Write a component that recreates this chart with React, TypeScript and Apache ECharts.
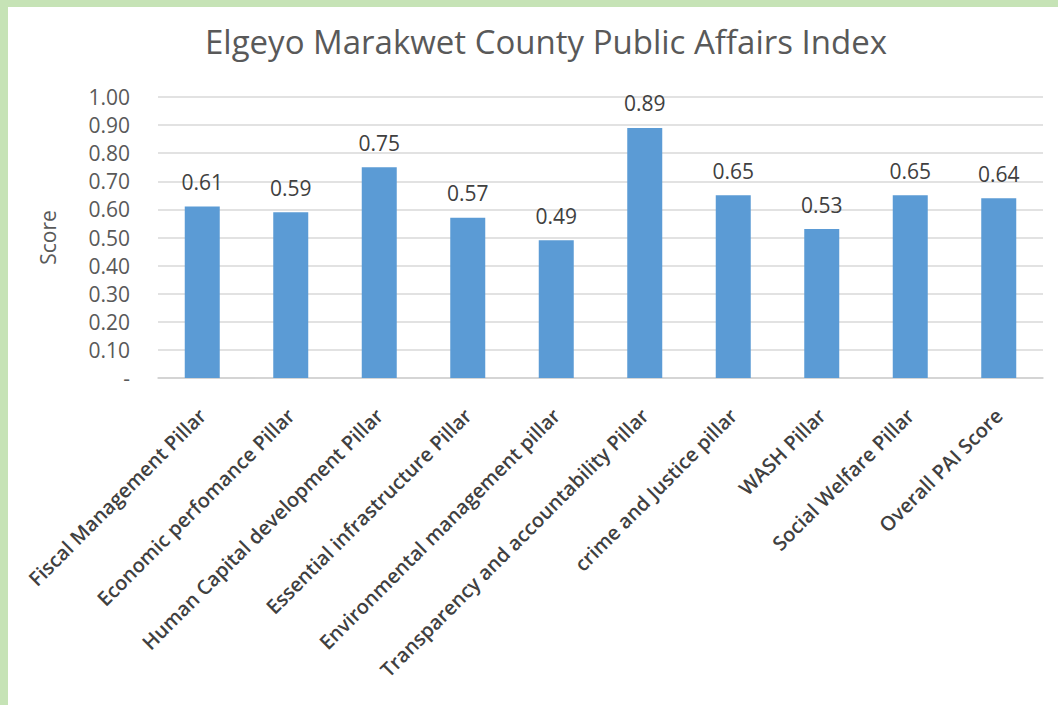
import React, { useEffect, useRef } from "react";
import * as echarts from "echarts";

const categories = [
  "Fiscal Management Pillar",
  "Economic perfomance Pillar",
  "Human Capital development Pillar",
  "Essential infrastructure Pillar",
  "Environmental management pillar",
  "Transparency and accountability Pillar",
  "crime and Justice pillar",
  "WASH Pillar",
  "Social Welfare Pillar",
  "Overall PAI Score",
];
const scores = [0.61, 0.59, 0.75, 0.57, 0.49, 0.89, 0.65, 0.53, 0.65, 0.64];
const titleText = "Elgeyo Marakwet County Public Affairs Index";
const yAxisName = "Score";

const FONT = "'Open Sans', 'Noto Sans', sans-serif";

export default function App() {
  const ref = useRef<HTMLDivElement>(null);
  useEffect(() => {
    if (!ref.current) return;
    const chart = echarts.init(ref.current, null, { renderer: "svg" });
    chart.setOption({
      animation: false,
      backgroundColor: "#ffffff",
      title: {
        text: titleText,
        left: 200,
        top: 20,
        textStyle: { fontFamily: FONT, fontSize: 33, fontWeight: "normal", color: "#595959" },
      },
      graphic: [
        { type: "rect", left: 0, top: 0, shape: { width: 1058, height: 7 }, style: { fill: "#c6e3b6" } },
        { type: "rect", left: 0, top: 0, shape: { width: 8, height: 705 }, style: { fill: "#c6e3b6" } },
      ],
      grid: { left: 158, right: 15, top: 97, bottom: 327 },
      xAxis: {
        type: "category",
        data: categories,
        axisLine: { lineStyle: { color: "#d0d0d0", width: 1.5 } },
        axisTick: { show: false },
        axisLabel: {
          rotate: 45,
          interval: 0,
          margin: 34,
          fontFamily: FONT,
          fontSize: 20,
          fontWeight: 600,
          color: "#404040",
        },
      },
      yAxis: {
        type: "value",
        min: 0,
        max: 1,
        interval: 0.1,
        name: yAxisName,
        nameLocation: "middle",
        nameGap: 100,
        nameTextStyle: { fontFamily: FONT, fontSize: 21, color: "#595959" },
        axisLine: { show: false },
        axisTick: { show: false },
        splitLine: { lineStyle: { color: "#d9d9d9", width: 1.5 } },
        axisLabel: {
          margin: 28,
          fontFamily: FONT,
          fontSize: 21,
          color: "#595959",
          formatter: (v: number) => (v === 0 ? "-" : v.toFixed(2)),
        },
      },
      series: [
        {
          type: "bar",
          data: scores,
          barWidth: 35,
          itemStyle: { color: "#5b9bd5" },
          label: {
            show: true,
            position: "top",
            distance: 14,
            fontFamily: FONT,
            fontSize: 21,
            color: "#404040",
            formatter: (p: any) => p.value.toFixed(2),
          },
        },
      ],
    });
    return () => chart.dispose();
  }, []);
  return (
    <div
      ref={ref}
      style={{ position: "fixed", left: 0, top: 0, width: 1058, height: 705 }}
    />
  );
}
